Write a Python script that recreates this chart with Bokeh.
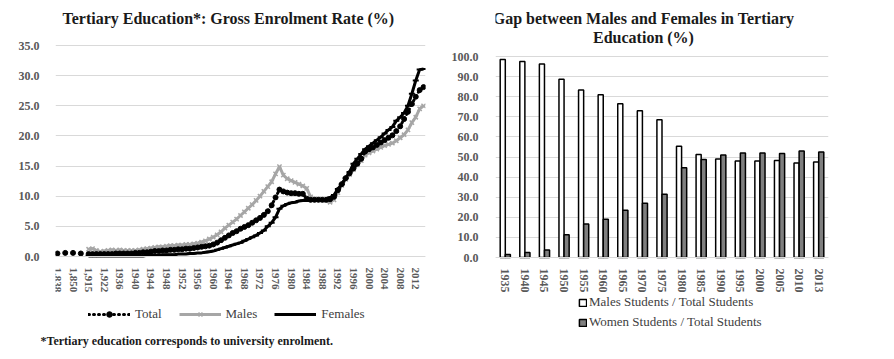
import numpy as np
from bokeh.plotting import figure
from bokeh.models import (Range1d, FixedTicker, NumeralTickFormatter, Label,
                          Legend, LegendItem, Title, ColumnDataSource, FactorRange)
from bokeh.layouts import row
from bokeh.transform import dodge
from bokeh.embed import file_html
from bokeh.resources import INLINE

# ---------------- Left chart data ----------------
early_labels = ["1,838", "1,841", "1,844", "1,847", "1,850", "1,860", "1,880", "1,900",
                "1,915", "1,917", "1,918", "1,920", "1,922", "1,926", "1,930", "1,933"]
yearly_labels = [str(y) for y in range(1936, 2015)]
categories = early_labels + yearly_labels
left_y_ticks = [0, 5, 10, 15, 20, 25, 30, 35]

total = [0.5, None, 0.6, None, 0.6, None, 0.5, None, 0.4, 0.4, 0.4, 0.4, 0.4, 0.4, 0.4, 0.5,
         # 1936-1959
         0.5, 0.5, 0.5, 0.5, 0.6, 0.6, 0.7, 0.7, 0.8, 0.9, 0.9, 1.0, 1.0, 1.1, 1.1, 1.2,
         1.2, 1.3, 1.3, 1.4, 1.5, 1.6, 1.7, 1.8,
         # 1960-1985
         2.0, 2.3, 2.7, 3.1, 3.5, 3.9, 4.2, 4.6, 4.9, 5.2, 5.6, 6.0, 6.4, 6.9, 7.5, 8.5,
         9.8, 11.1, 10.8, 10.6, 10.5, 10.5, 10.4, 10.4, 9.6, 9.4,
         # 1986-2014
         9.4, 9.4, 9.4, 9.4, 9.5, 9.9, 11.0, 12.0, 13.0, 13.8, 14.6, 15.4, 16.2, 17.4,
         17.8, 18.1, 18.5, 18.9, 19.3, 19.7, 20.1, 20.8, 21.6, 22.8, 24.0, 25.3, 26.5,
         27.6, 28.1]

males = [None, None, None, None, None, None, None, None, 1.2, 1.3, 1.0, 0.8, 0.9, 1.0, 1.1, 1.0,
         # 1936-1959
         1.1, 1.0, 1.0, 1.0, 1.0, 1.1, 1.2, 1.3, 1.4, 1.5, 1.6, 1.6, 1.7, 1.8, 1.8, 1.9,
         1.9, 2.0, 2.0, 2.1, 2.2, 2.4, 2.6, 2.9,
         # 1960-1985
         3.2, 3.6, 4.1, 4.7, 5.2, 5.7, 6.2, 6.8, 7.4, 8.0, 8.6, 9.3, 10.0, 10.8, 11.6, 12.4,
         13.7, 14.9, 13.5, 12.9, 12.6, 12.3, 12.0, 11.7, 11.3, 9.9,
         # 1986-2014
         9.5, 9.5, 9.4, 9.3, 9.0, 9.4, 10.6, 11.8, 12.8, 13.6, 14.4, 15.2, 15.9, 16.8,
         17.2, 17.5, 17.8, 18.1, 18.4, 18.6, 18.8, 19.2, 19.7, 20.2, 21.0, 22.2, 23.1,
         24.5, 25.0]

females = [None, None, None, None, None, None, None, None, 0.1, 0.1, 0.1, 0.1, 0.1, 0.1, 0.1, 0.1,
           # 1936-1959
           0.1, 0.1, 0.1, 0.1, 0.1, 0.1, 0.1, 0.2, 0.2, 0.2, 0.2, 0.3, 0.3, 0.3, 0.3, 0.4,
           0.4, 0.4, 0.5, 0.5, 0.6, 0.6, 0.7, 0.8,
           # 1960-1985
           0.9, 1.1, 1.3, 1.5, 1.7, 1.9, 2.1, 2.3, 2.6, 2.9, 3.2, 3.5, 3.9, 4.3, 5.0, 5.6,
           6.5, 7.9, 8.4, 8.7, 8.9, 9.0, 9.2, 9.3, 9.3, 9.3,
           # 1986-2014
           9.3, 9.4, 9.4, 9.5, 9.8, 10.2, 11.2, 12.0, 13.0, 14.0, 15.4, 16.2, 17.0, 17.8,
           18.3, 18.8, 19.3, 19.8, 20.4, 21.0, 21.5, 22.5, 23.1, 23.8, 25.0, 27.0, 29.2,
           31.0, 31.1]

# ---------------- Right chart data ----------------
gap_years = ["1935", "1940", "1945", "1950", "1955", "1960", "1965", "1970", "1975",
             "1980", "1985", "1990", "1995", "2000", "2005", "2010", "2013"]
male_share = [98.5, 97.5, 96.3, 88.7, 83.3, 81.0, 76.5, 73.0, 68.5,
              55.3, 51.3, 49.0, 48.0, 48.0, 48.3, 47.0, 47.5]
women_share = [1.5, 2.5, 3.7, 11.3, 16.7, 19.0, 23.5, 27.0, 31.5,
               44.7, 48.7, 51.0, 52.0, 52.0, 51.7, 53.0, 52.5]
right_y_ticks = [0, 10, 20, 30, 40, 50, 60, 70, 80, 90, 100]

SERIF = "Liberation Serif"
TICK_COLOR = "#595959"
GRID = "#d9d9d9"
TEXT = "#1a1a1a"

# layout constants (pixels inside each figure)
H = 357
BOTTOM = 25                     # footnote strip under the frames
FRAME_BOTTOM = H - BOTTOM       # frames start at the top of the canvas


def arr(v):
    return np.array([np.nan if a is None else a for a in v], dtype=float)


def style_axes(p, xsize, yticks, ystandoff):
    p.outline_line_color = None
    p.xgrid.visible = False
    p.ygrid.grid_line_color = GRID
    p.yaxis.ticker = FixedTicker(ticks=yticks)
    p.yaxis.formatter = NumeralTickFormatter(format="0.0")
    p.yaxis.axis_line_color = None
    p.yaxis.major_tick_line_color = None
    p.yaxis.minor_tick_line_color = None
    p.yaxis.major_label_text_font = SERIF
    p.yaxis.major_label_text_font_style = "bold"
    p.yaxis.major_label_text_font_size = "12px"
    p.yaxis.major_label_text_color = TICK_COLOR
    p.yaxis.major_label_standoff = ystandoff
    p.xaxis.fixed_location = 0
    p.xaxis.major_label_orientation = "vertical"
    p.xaxis.axis_line_color = GRID
    p.xaxis.major_tick_line_color = None
    p.xaxis.minor_tick_line_color = None
    p.xaxis.major_label_text_font = SERIF
    p.xaxis.major_label_text_font_style = "bold"
    p.xaxis.major_label_text_font_size = xsize
    p.xaxis.major_label_text_color = TICK_COLOR
    p.xaxis.major_label_standoff = 5


def yrange(zero_px, top_px, top_val):
    ppu = (zero_px - top_px) / top_val
    return Range1d(-(FRAME_BOTTOM - zero_px) / ppu, top_val + top_px / ppu), ppu


n = len(categories)
xs = np.arange(n)

# ---------------- Left figure ----------------
yr1, ppu1 = yrange(256, 45, 35)
p1 = figure(width=448, height=H, output_backend="svg", toolbar_location=None,
            x_range=Range1d(-0.5, n - 0.5), y_range=yr1,
            min_border_left=55, min_border_right=23, min_border_top=0,
            min_border_bottom=BOTTOM)
style_axes(p1, "11px", left_y_ticks, 10)
tick_idx = list(range(0, n, 4))
p1.xaxis.ticker = FixedTicker(ticks=tick_idx)
p1.xaxis.major_label_overrides = {i: categories[i] for i in tick_idx}

src1 = ColumnDataSource(dict(x=xs, total=arr(total), males=arr(males), females=arr(females)))

m_line = p1.line("x", "males", source=src1, line_color="#a6a6a6", line_width=3)
m_mark = p1.scatter("x", "males", source=src1, marker="x", size=6, line_color="#a6a6a6", line_width=1.5)
f_line = p1.line("x", "females", source=src1, line_color="black", line_width=3)
f_mark = p1.scatter("x", "females", source=src1, marker="dash", size=6, line_color="black", line_width=2)
t_line = p1.line("x", "total", source=src1, line_color="black", line_width=3,
                 line_dash="1 4", line_cap="round")
t_mark = p1.scatter("x", "total", source=src1, marker="circle", size=5, fill_color="black",
                    line_color="black")

p1.add_layout(Label(x=-0.5, y=yr1.end - 18 / ppu1, x_offset=7,
                    text="Tertiary Education*: Gross Enrolment Rate (%)",
                    text_font=SERIF, text_font_style="bold", text_font_size="16px",
                    text_color=TEXT, text_align="left", text_baseline="middle"))

leg1 = Legend(items=[LegendItem(label="Total", renderers=[t_line, t_mark]),
                     LegendItem(label="Males", renderers=[m_line, m_mark]),
                     LegendItem(label="Females", renderers=[f_line, f_mark])],
              orientation="horizontal", location=(33, FRAME_BOTTOM - 322),
              label_text_font=SERIF, label_text_font_size="13px", label_text_color="#404040",
              glyph_width=42, glyph_height=14, label_standoff=5, spacing=17,
              padding=0, margin=0, border_line_color=None, background_fill_alpha=0)
p1.add_layout(leg1)

foot = Title(text="*Tertiary education corresponds to university enrolment.", align="left",
             vertical_align="top", offset=-15, standoff=2, text_font=SERIF,
             text_font_style="bold", text_font_size="12px", text_color=TEXT)
p1.add_layout(foot, "below")

# ---------------- Right figure ----------------
yr2, ppu2 = yrange(257, 56, 100)
p2 = figure(width=442, height=H, output_backend="svg", toolbar_location=None,
            x_range=FactorRange(*gap_years, range_padding=0), y_range=yr2,
            min_border_left=47, min_border_right=62, min_border_top=0,
            min_border_bottom=BOTTOM)
style_axes(p2, "12px", right_y_ticks, 11)

src2 = ColumnDataSource(dict(year=gap_years, male=male_share, women=women_share))
r_m = p2.vbar(x=dodge("year", -0.13, range=p2.x_range), top="male", width=0.26, source=src2,
              fill_color="white", line_color="black", line_width=1.5)
r_w = p2.vbar(x=dodge("year", 0.13, range=p2.x_range), top="women", width=0.26, source=src2,
              fill_color="#7f7f7f", line_color="black", line_width=1.5)

p2.add_layout(Label(x=0, y=yr2.end - 18 / ppu2, x_offset=148,
                    text="Gap between Males and Females in Tertiary",
                    text_font=SERIF, text_font_style="bold", text_font_size="16px",
                    text_color=TEXT, text_align="center", text_baseline="middle"))
p2.add_layout(Label(x=0, y=yr2.end - 37 / ppu2, x_offset=148,
                    text="Education (%)",
                    text_font=SERIF, text_font_style="bold", text_font_size="16px",
                    text_color=TEXT, text_align="center", text_baseline="middle"))

leg2 = Legend(items=[LegendItem(label="Males Students / Total Students", renderers=[r_m]),
                     LegendItem(label="Women Students / Total Students", renderers=[r_w])],
              orientation="vertical", location=(83, FRAME_BOTTOM - 332),
              label_text_font=SERIF, label_text_font_size="13px", label_text_color="#404040",
              glyph_width=9, glyph_height=9, label_standoff=2, spacing=0, label_height=20,
              padding=0, margin=0, border_line_color=None, background_fill_alpha=0)
p2.add_layout(leg2)

layout = row(p1, p2)
open("out.html", "w").write(file_html(layout, INLINE))
